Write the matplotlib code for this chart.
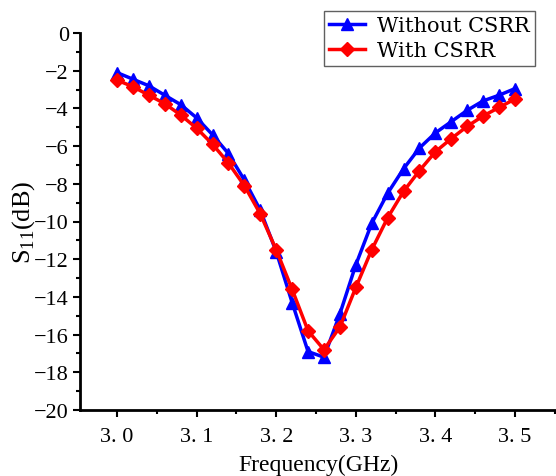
import matplotlib
matplotlib.use("Agg")
import matplotlib.pyplot as plt
from matplotlib.ticker import MultipleLocator

# frequency points (GHz)
freq = [3.00, 3.02, 3.04, 3.06, 3.08, 3.10, 3.12, 3.14, 3.16, 3.18, 3.20, 3.22, 3.24,
        3.26, 3.28, 3.30, 3.32, 3.34, 3.36, 3.38, 3.40, 3.42, 3.44, 3.46, 3.48, 3.50]

# S11 without CSRR (dB)
s11_without = [-2.1, -2.45, -2.8, -3.3, -3.8, -4.5, -5.4, -6.4, -7.8, -9.4, -11.6, -14.3, -16.9,
               -17.2, -14.9, -12.3, -10.1, -8.5, -7.2, -6.1, -5.3, -4.7, -4.1, -3.6, -3.3, -2.95]

# S11 with CSRR (dB)
s11_with = [-2.5, -2.85, -3.3, -3.75, -4.35, -5.05, -5.9, -6.9, -8.1, -9.6, -11.5, -13.6, -15.8,
            -16.8, -15.6, -13.5, -11.5, -9.8, -8.4, -7.3, -6.3, -5.6, -4.95, -4.4, -3.95, -3.5]

plt.rcParams['font.family'] = ['Liberation Serif', 'DejaVu Serif']
plt.rcParams['mathtext.fontset'] = 'custom'
plt.rcParams['mathtext.rm'] = 'Liberation Serif'

fig = plt.figure(figsize=(5.56, 4.77), dpi=100)
ax = fig.add_axes([80 / 556, 66 / 477, 476 / 556, 377 / 477])

ax.plot(freq, s11_without, color='#0000ff', lw=2.5, marker='^', ms=8.5, label='Without CSRR')
ax.plot(freq, s11_with, color='#ff0000', lw=2.5, marker='D', ms=7, label='With CSRR')

ax.set_xlim(2.9535, 3.5515)
ax.set_ylim(-20, 0)
ax.xaxis.set_major_locator(MultipleLocator(0.1))
ax.xaxis.set_minor_locator(MultipleLocator(0.05))
ax.yaxis.set_major_locator(MultipleLocator(2))
ax.yaxis.set_minor_locator(MultipleLocator(1))
ax.set_xticks([3.0, 3.1, 3.2, 3.3, 3.4, 3.5])
ax.set_xticklabels(['3. 0', '3. 1', '3. 2', '3. 3', '3. 4', '3. 5'])

ax.tick_params(which='major', direction='out', length=5, width=1.5, labelsize=16)
ax.tick_params(which='minor', direction='out', length=3, width=1.5)
ax.tick_params(axis='x', pad=7)
ax.tick_params(axis='y', pad=3)

for side in ['top', 'right']:
    ax.spines[side].set_visible(False)
for side in ['left', 'bottom']:
    ax.spines[side].set_linewidth(2)

ax.set_xlabel('Frequency(GHz)', fontsize=17, labelpad=6)
ax.set_ylabel('S$_{11}$(dB)', fontsize=19, labelpad=-2)

leg = fig.legend(loc='upper right', bbox_to_anchor=(535 / 556, 1 - 12 / 477),
                 numpoints=1, fancybox=False, framealpha=1, borderaxespad=0,
                 edgecolor='#606060', handlelength=1.7, borderpad=0.25,
                 labelspacing=0.3, handletextpad=0.6,
                 prop={'family': 'DejaVu Serif', 'size': 15})
leg.get_frame().set_linewidth(1.0)

fig.savefig('out.png', dpi=100)
